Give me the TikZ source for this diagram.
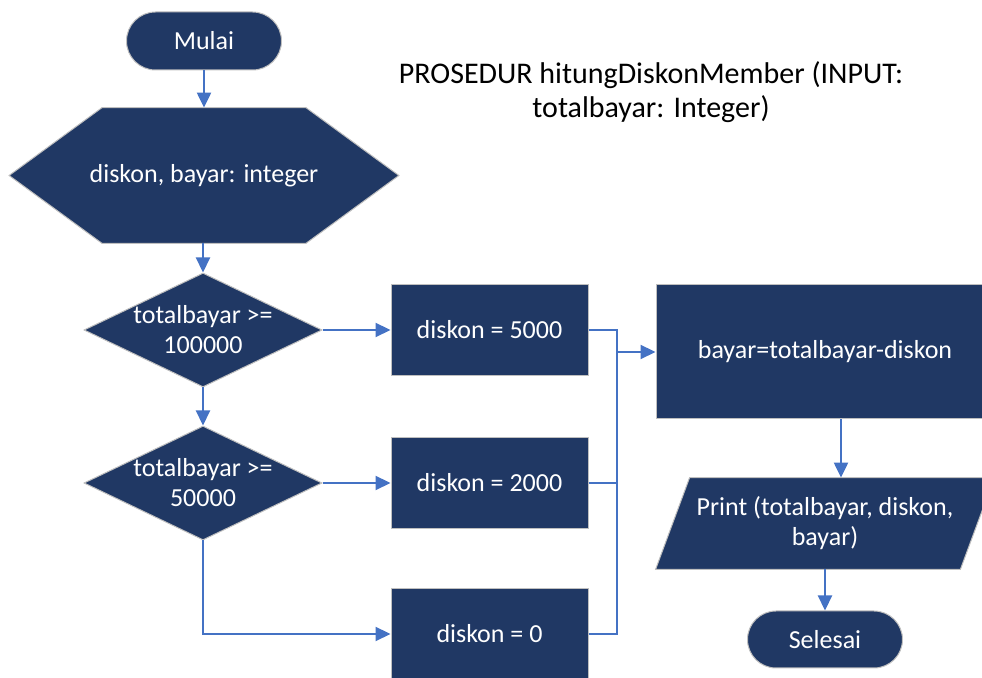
\documentclass[tikz,border=0pt]{standalone}
\usepackage{fontspec}
\setmainfont{Carlito}
\usetikzlibrary{arrows.meta,shapes.geometric,backgrounds}
\definecolor{navy}{HTML}{203864}
\definecolor{lineblue}{HTML}{4472C4}
\definecolor{edgegray}{HTML}{BFBFBF}
\begin{document}
\begin{tikzpicture}[x=0.5pt,y=-0.5pt,
  shapefill/.style={fill=navy,draw=edgegray,line width=0.5pt},
  txt/.style={text=white,font=\fontsize{13}{15}\selectfont,align=center},
  procbox/.style={shapefill,txt,rectangle,inner sep=0pt},
  decision/.style={shapefill,txt,diamond,aspect=2.09,inner xsep=-25pt,inner ysep=-10pt,minimum width=119pt,minimum height=57pt},
  arr/.style={draw=lineblue,line width=1.1pt,-{Triangle[length=7.5pt,width=7pt]}},
  conn/.style={draw=lineblue,line width=1.1pt}]
\useasboundingbox (0,0) rectangle (982,678);
\clip (0,0) rectangle (982,678);

% title
\node[font=\fontsize{15}{17}\selectfont,align=center] (title) at (651,92) {PROSEDUR hitungDiskonMember (INPUT:\\totalbayar: Integer)};

% start
\node[procbox,rounded corners=14.5pt,minimum width=77.5pt,minimum height=29pt] (start) at (204,41) {Mulai};

% declaration hexagon
\node[txt,minimum width=101.5pt,minimum height=67.5pt,inner ysep=0pt,inner xsep=-20pt] (decl) at (204,175.5) {diskon, bayar: integer};
\begin{scope}[on background layer]
  \path[shapefill] ([xshift=-46.5pt]decl.west) -- (decl.north west) -- (decl.north east)
    -- ([xshift=46.5pt]decl.east) -- (decl.south east) -- (decl.south west) -- cycle;
\end{scope}

% decisions
\node[decision] (q1) at (203,330) {totalbayar >=\\100000};
\node[decision] (q2) at (203,483) {totalbayar >=\\50000};

% assignment boxes
\node[procbox,minimum width=98.5pt,minimum height=45.5pt] (b1) at (489.5,330) {diskon = 5000};
\node[procbox,minimum width=98.5pt,minimum height=45.5pt] (b2) at (489.5,483) {diskon = 2000};
\node[procbox,minimum width=98.5pt,minimum height=45.5pt] (b3) at (489.5,634) {diskon = 0};

% calculation
\node[procbox,minimum width=169pt,minimum height=67pt] (calc) at (825,352) {bayar=totalbayar-diskon};

% output parallelogram
\node[txt,minimum width=152pt,minimum height=45.5pt,inner sep=0pt] (out) at (825,523.5) {Print (totalbayar, diskon,\\bayar)};
\begin{scope}[on background layer]
  \path[shapefill] ([xshift=-8.5pt]out.south west) -- ([xshift=-8.5pt]out.south east)
    -- ([xshift=8.5pt]out.north east) -- ([xshift=8.5pt]out.north west) -- cycle;
\end{scope}

% end
\node[procbox,rounded corners=14.25pt,minimum width=77.5pt,minimum height=28.5pt] (end) at (825,639.5) {Selesai};

% connectors
\draw[arr] (start.south) -- (decl.north);
\draw[arr] (decl.south -| q1.north) -- (q1.north);
\draw[arr] (q1.south) -- (q2.north);
\draw[arr] (q1.east) -- (b1.west);
\draw[arr] (q2.east) -- (b2.west);
\draw[arr] (q2.south) |- (b3.west);
\coordinate (join) at (617,352);
\draw[conn] (b1.east) -| (join);
\draw[conn] (b2.east) -| (join);
\draw[conn] (b3.east) -| (join);
\draw[arr] (join) -- (calc.west);
\coordinate (dropx) at (841,0);
\draw[arr] (calc.south -| dropx) -- (out.north -| dropx);
\draw[arr] (out.south) -- (end.north);
\end{tikzpicture}
\end{document}
